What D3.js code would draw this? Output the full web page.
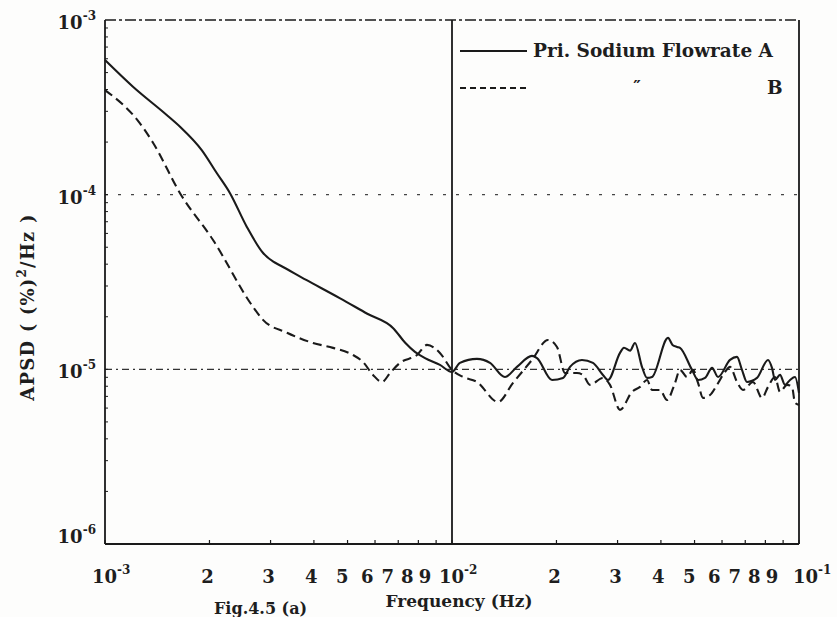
<!DOCTYPE html>
<html>
<head>
<meta charset="utf-8">
<script src="https://cdn.jsdelivr.net/npm/d3@7"></script>
<style>
  html, body { margin: 0; padding: 0; background: #fdfdfc; }
  svg { display: block; }
  text { font-family: "DejaVu Serif", "Liberation Serif", serif; font-weight: bold; fill: #1e1e1e; }
</style>
</head>
<body>
<svg id="chart" width="837" height="617"></svg>
<script>
// Primary sodium flowrate A: frequency (Hz) and APSD ((%)^2/Hz)
const freqA = [0.001, 0.001204, 0.001506, 0.001645, 0.0019, 0.002099, 0.002292, 0.002561, 0.002859, 0.003055,
  0.0032, 0.0038, 0.00476, 0.0057, 0.00677, 0.00733, 0.00782, 0.00836, 0.00923, 0.0100, 0.01054, 0.0118, 0.01287,
  0.01421, 0.01539, 0.0170, 0.01758, 0.01942, 0.02089, 0.02188, 0.02369, 0.02548, 0.02723,
  0.02815, 0.03049, 0.0313, 0.0326, 0.03368, 0.03528, 0.03648, 0.03771, 0.04193, 0.0432,
  0.04451, 0.0454, 0.04917, 0.05117, 0.05361, 0.05616, 0.05844, 0.06327, 0.06627, 0.0685,
  0.07081, 0.07568, 0.08141, 0.0836, 0.08528, 0.08816, 0.09115, 0.09422, 0.09739, 0.1];
const apsdA = [5.9e-4, 4.15e-4, 2.86e-4, 2.45e-4, 1.8e-4, 1.33e-4, 1.02e-4, 6.56e-5, 4.62e-5, 4.13e-5,
  3.93e-5, 3.25e-5, 2.55e-5, 2.08e-5, 1.72e-5, 1.42e-5, 1.26e-5, 1.16e-5, 1.06e-5, 9.66e-6, 1.089e-5, 1.148e-5, 1.089e-5,
  9.04e-6, 1.033e-5, 1.194e-5, 1.161e-5, 8.69e-6, 8.93e-6, 1.033e-5, 1.132e-5, 1.089e-5, 9.29e-6,
  8.69e-6, 1.242e-5, 1.33e-5, 1.28e-5, 1.416e-5, 1.033e-5, 8.93e-6, 9.04e-6, 1.514e-5, 1.38e-5,
  1.343e-5, 1.327e-5, 9.93e-6, 8.69e-6, 8.93e-6, 1.019e-5, 9.04e-6, 1.132e-5, 1.178e-5, 9.93e-6,
  8.47e-6, 8.93e-6, 1.132e-5, 1.019e-5, 8.69e-6, 9.29e-6, 8.15e-6, 8.69e-6, 9.04e-6, 7.33e-6];

// Primary sodium flowrate B
const freqB = [0.001, 0.001261, 0.001378, 0.001645, 0.002048, 0.00267, 0.002853, 0.003345, 0.003975, 0.00454,
  0.005184, 0.00554, 0.00592, 0.006285, 0.00663, 0.00708, 0.00793, 0.00847, 0.00923, 0.0100,
  0.01076, 0.0118, 0.01357, 0.01499, 0.0170, 0.01891, 0.02007, 0.02117, 0.02292, 0.02385,
  0.02498, 0.02723, 0.02853, 0.03049, 0.03302, 0.03482, 0.03648, 0.03771, 0.03976, 0.04165,
  0.04392, 0.0454, 0.04757, 0.0495, 0.05117, 0.0529, 0.05542, 0.05805, 0.0612, 0.06327,
  0.06627, 0.06896, 0.07369, 0.07823, 0.08141, 0.08528, 0.08816, 0.09236, 0.09546, 0.09739, 0.1];
const apsdB = [3.97e-4, 2.56e-4, 1.97e-4, 1.02e-4, 5.5e-5, 2.28e-5, 1.92e-5, 1.62e-5, 1.416e-5, 1.327e-5,
  1.208e-5, 1.102e-5, 9.29e-6, 8.47e-6, 9.53e-6, 1.089e-5, 1.208e-5, 1.38e-5, 1.242e-5, 9.93e-6,
  9.04e-6, 8.47e-6, 6.51e-6, 8.36e-6, 1.132e-5, 1.473e-5, 1.343e-5, 9.53e-6, 9.53e-6, 9.29e-6,
  8.15e-6, 8.93e-6, 8.15e-6, 5.86e-6, 7.43e-6, 7.93e-6, 8.69e-6, 7.62e-6, 7.62e-6, 6.68e-6,
  8.36e-6, 9.93e-6, 9.04e-6, 9.93e-6, 8.36e-6, 6.86e-6, 7.13e-6, 8.15e-6, 9.66e-6, 1.033e-5,
  8.47e-6, 7.62e-6, 8.47e-6, 6.86e-6, 7.93e-6, 9.04e-6, 7.43e-6, 8.15e-6, 7.93e-6, 6.43e-6, 6.25e-6];

// Tick values and their labels ("10|-3" = 10 with superscript -3)
const xTickValues = [0.001, 0.002, 0.003, 0.004, 0.005, 0.006, 0.007, 0.008, 0.009,
  0.01, 0.02, 0.03, 0.04, 0.05, 0.06, 0.07, 0.08, 0.09, 0.1];
const xTickLabels = ["10|-3", "2", "3", "4", "5", "6", "7", "8", "9",
  "10|-2", "2", "3", "4", "5", "6", "7", "8", "9", "10|-1"];
const yTickValues = [1e-3, 1e-4, 1e-5, 1e-6];
const yTickLabels = ["10|-3", "10|-4", "10|-5", "10|-6"];

const seriesNames = ["Pri. Sodium Flowrate A", "B"];

const svg = d3.select("#chart");
const margin = { left: 105, right: 38, top: 20, bottom: 73 };
const W = 837, H = 617;

const x = d3.scaleLog().domain([1e-3, 1e-1]).range([margin.left, W - margin.right]);
const y = d3.scaleLog().domain([1e-6, 1e-3]).range([H - margin.bottom, margin.top]);

const ink = "#1a1a1a";

// reference lines at decades (dash-dot styles)
const g = svg.append("g");
g.append("line")
  .attr("x1", x(1e-3)).attr("x2", x(1e-1))
  .attr("y1", y(1e-3)).attr("y2", y(1e-3))
  .attr("stroke", ink).attr("stroke-width", 1.7)
  .attr("stroke-dasharray", "11,3,3,3");
g.append("line")
  .attr("x1", x(1e-3)).attr("x2", x(1e-1))
  .attr("y1", y(1e-4)).attr("y2", y(1e-4))
  .attr("stroke", "#444").attr("stroke-width", 1.4)
  .attr("stroke-dasharray", "3,10");
g.append("line")
  .attr("x1", x(1e-3)).attr("x2", x(1e-1))
  .attr("y1", y(1e-5)).attr("y2", y(1e-5))
  .attr("stroke", "#333").attr("stroke-width", 1.3)
  .attr("stroke-dasharray", "7,4,2,4");

// frame: left, right, bottom solid; vertical line at 10^-2
[1e-3, 1e-2, 1e-1].forEach(v => {
  g.append("line")
    .attr("x1", x(v)).attr("x2", x(v))
    .attr("y1", y(1e-3)).attr("y2", y(1e-6))
    .attr("stroke", ink).attr("stroke-width", 1.8);
});
g.append("line")
  .attr("x1", x(1e-3)).attr("x2", x(1e-1))
  .attr("y1", y(1e-6)).attr("y2", y(1e-6))
  .attr("stroke", ink).attr("stroke-width", 1.8);

// minor ticks along the bottom and left edges
const xMinor = [];
[1e-3, 1e-2].forEach(d => { for (let k = 1; k <= 9; k++) xMinor.push(d * k); });
xMinor.push(1e-1);
g.selectAll(".xminor").data(xMinor).enter().append("line")
  .attr("x1", d => x(d)).attr("x2", d => x(d))
  .attr("y1", y(1e-6)).attr("y2", y(1e-6) - 4)
  .attr("stroke", ink).attr("stroke-width", 1.2);
const yMinor = [];
[1e-6, 1e-5, 1e-4].forEach(d => { for (let k = 1; k <= 9; k++) yMinor.push(d * k); });
g.selectAll(".yminor").data(yMinor).enter().append("line")
  .attr("x1", x(1e-3)).attr("x2", x(1e-3) + 3)
  .attr("y1", d => y(d)).attr("y2", d => y(d))
  .attr("stroke", ink).attr("stroke-width", 1);

// power-of-ten label helper
function drawLabel(sel, label, anchorX, baseY, align) {
  const parts = label.split("|");
  const t = sel.append("text").attr("y", baseY).attr("font-size", 18);
  if (parts.length === 1) {
    t.attr("x", anchorX).attr("text-anchor", "middle").text(parts[0]);
    return;
  }
  t.attr("x", anchorX).attr("text-anchor", align);
  t.append("tspan").text(parts[0]);
  t.append("tspan").attr("font-size", 12).attr("dy", -9).text(parts[1]);
}

// x tick labels
const xl = svg.append("g");
xTickValues.forEach((v, i) => {
  const lab = xTickLabels[i];
  const mant = Math.round(v / Math.pow(10, Math.floor(Math.log10(v) + 1e-9)));
  const px = x(v);
  if (lab.indexOf("|") >= 0) {
    // "10" sits over the tick, exponent to the right
    drawLabel(xl, lab, px - (v === 0.1 ? 6 : 13), 583, "start");
  } else {
    const nudge = mant >= 4 ? -Math.min(11, (mant - 3) * 2.6) : -2;
    drawLabel(xl, lab, px + nudge, 583, "middle");
  }
});

// y tick labels
const yl = svg.append("g");
yTickValues.forEach((v, i) => {
  const off = i === yTickValues.length - 1 ? -1 : 9;
  drawLabel(yl, yTickLabels[i], 96, y(v) + off, "end");
});

// data lines
const line = d3.line()
  .x(d => x(d[0])).y(d => y(d[1]))
  .curve(d3.curveMonotoneX);

const dataA = freqA.map((f, i) => [f, apsdA[i]]);
const dataB = freqB.map((f, i) => [f, apsdB[i]]);

svg.append("path").datum(dataA)
  .attr("d", line).attr("fill", "none")
  .attr("stroke", ink).attr("stroke-width", 2.1)
  .attr("stroke-linejoin", "round");
svg.append("path").datum(dataB)
  .attr("d", line).attr("fill", "none")
  .attr("stroke", ink).attr("stroke-width", 2.1)
  .attr("stroke-dasharray", "9,5");

// legend
const lg = svg.append("g");
lg.append("line").attr("x1", 460).attr("x2", 527).attr("y1", 51).attr("y2", 51)
  .attr("stroke", ink).attr("stroke-width", 2.1);
lg.append("text").attr("x", 533).attr("y", 57).attr("font-size", 18.5).text(seriesNames[0]);
lg.append("line").attr("x1", 460).attr("x2", 527).attr("y1", 88).attr("y2", 88)
  .attr("stroke", ink).attr("stroke-width", 2.1).attr("stroke-dasharray", "6,4");
lg.append("text").attr("x", 637).attr("y", 92).attr("font-size", 17).attr("text-anchor", "middle").text("\u2033");
lg.append("text").attr("x", 767).attr("y", 94).attr("font-size", 18.5).text(seriesNames[1]);

// axis titles
const yt = svg.append("text")
  .attr("transform", "translate(34,307) rotate(-90)")
  .attr("text-anchor", "middle").attr("font-size", 18)
  .attr("letter-spacing", 1.2);
yt.append("tspan").text("APSD  ( (%)");
yt.append("tspan").attr("font-size", 12).attr("dy", -8).text("2");
yt.append("tspan").attr("dy", 8).text("/Hz )");

svg.append("text")
  .attr("x", 459).attr("y", 607).attr("text-anchor", "middle").attr("font-size", 17)
  .text("Frequency  (Hz)");

svg.append("text")
  .attr("x", 214).attr("y", 614).attr("font-size", 16)
  .text("Fig.4.5 (a)");
</script>
</body>
</html>
